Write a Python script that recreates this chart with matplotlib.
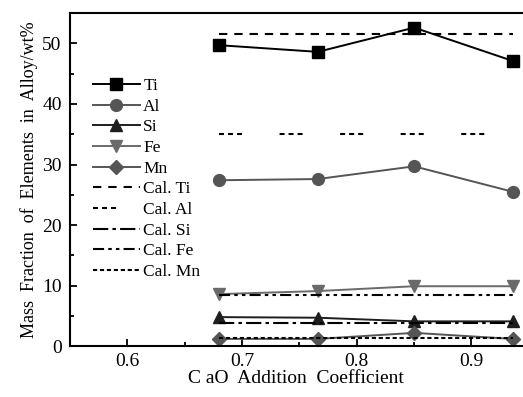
import matplotlib
matplotlib.use("Agg")
import matplotlib.pyplot as plt
from matplotlib.ticker import MultipleLocator

plt.rcParams["font.family"] = ["Liberation Serif", "DejaVu Serif"]
plt.rcParams["lines.scale_dashes"] = False

coef = [0.68, 0.766, 0.85, 0.936]
ti = [49.7, 48.6, 52.6, 47.1]
al = [27.4, 27.6, 29.7, 25.5]
si = [4.8, 4.7, 4.1, 4.1]
fe = [8.6, 9.1, 9.9, 9.9]
mn = [1.2, 1.2, 2.2, 1.2]

cal_ti = 51.5
cal_al = 35.1
cal_si = 3.8
cal_fe = 8.4
cal_mn = 1.3

SERIES = [
    ("Ti", ti, "#000000", "s"),
    ("Al", al, "#555555", "o"),
    ("Si", si, "#1e1e1e", "^"),
    ("Fe", fe, "#6a6a6a", "v"),
    ("Mn", mn, "#555555", "D"),
]

CALC = [
    ("Cal. Ti", cal_ti, (0, (6, 5))),
    ("Cal. Al", cal_al, (0, (3.6, 2.9, 3.6, 2.9, 3.6, 27))),
    ("Cal. Si", cal_si, (0, (11, 3, 2.5, 3))),
    ("Cal. Fe", cal_fe, (0, (8, 3, 2.5, 3, 2.5, 3))),
    ("Cal. Mn", cal_mn, (0, (3, 2))),
]

fig = plt.figure(figsize=(5.23, 3.97), dpi=100)
ax = fig.add_axes([0.134, 0.128, 0.864, 0.839])

for name, vals, color, marker in SERIES:
    ms = 7 if marker == "D" else 8.5
    ax.plot(coef, vals, color=color, marker=marker, markersize=ms,
            linewidth=1.4, label=name)

for name, val, ls in CALC:
    ax.plot([coef[0], coef[-1]], [val, val], color="black",
            linestyle=ls, linewidth=1.5, label=name)

ax.set_xlim(0.55, 0.944)
ax.set_ylim(0, 55)
ax.xaxis.set_major_locator(MultipleLocator(0.1))
ax.xaxis.set_minor_locator(MultipleLocator(0.05))
ax.yaxis.set_major_locator(MultipleLocator(10))
ax.yaxis.set_minor_locator(MultipleLocator(5))
ax.tick_params(which="both", direction="in", labelsize=14, width=1.3)
ax.tick_params(which="major", length=5)
ax.tick_params(which="minor", length=3)
ax.tick_params(axis="x", pad=5)
ax.tick_params(axis="y", pad=6)
ax.spines["right"].set_visible(False)
for s in ("left", "bottom", "top"):
    ax.spines[s].set_linewidth(1.5)

ax.set_xlabel("C aO  Addition  Coefficient", fontsize=14, labelpad=0)
ax.set_ylabel("Mass  Fraction  of  Elements  in  Alloy/wt%", fontsize=13, labelpad=3)

ax.legend(loc="upper left", bbox_to_anchor=(0.035, 0.826), frameon=False,
          fontsize=12.5, handlelength=2.7, handletextpad=0.2,
          labelspacing=0.26, borderaxespad=0)

fig.savefig("out.png", dpi=100)
